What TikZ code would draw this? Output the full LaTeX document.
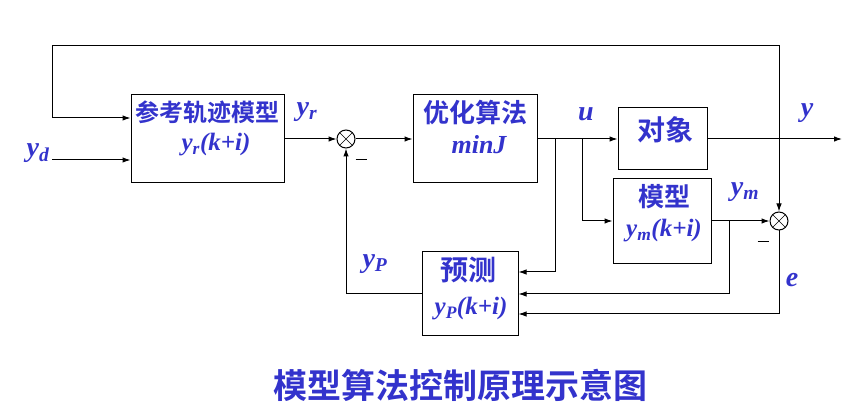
\documentclass[tikz,border=0pt]{standalone}
\usepackage{fontspec}
\setmainfont{Liberation Serif}
\newfontfamily\cjk{Noto Sans CJK SC}[BoldFont={Noto Sans CJK SC Bold}]
\usetikzlibrary{arrows.meta}
\definecolor{lblue}{RGB}{51,51,204}

\begin{document}
\begin{tikzpicture}[x=1pt,y=-1pt,>={Latex[length=8pt,width=5.5pt]},line width=1pt,
  blk/.style={draw,inner sep=0pt},
  sumj/.style={draw,circle,minimum size=18pt,inner sep=0pt,
    path picture={\draw[line width=0.6pt] (path picture bounding box.north west) -- (path picture bounding box.south east)
      (path picture bounding box.north east) -- (path picture bounding box.south west);}},
  cn/.style={text=lblue,font=\cjk\bfseries\fontsize{#1}{#1}\selectfont},
  ml/.style={text=lblue,font=\bfseries\itshape\fontsize{#1}{#1}\selectfont},
  sgn/.style={inner sep=0pt}]
\useasboundingbox (0,0) rectangle (859,419);

\node[blk,minimum width=153pt,minimum height=88pt] (ref) at (207.5,139) {};
\node[blk,minimum width=124pt,minimum height=88pt] (opt) at (475,139) {};
\node[blk,minimum width=89pt,minimum height=62pt] (plant) at (662.5,139) {};
\node[blk,minimum width=98pt,minimum height=85pt] (model) at (662,221) {};
\node[blk,minimum width=96pt,minimum height=84pt] (pred) at (470,294) {};
\node[sumj] (sum1) at (346,139) {};
\node[sumj] (sum2) at (779,221) {};

\node[cn=24] (refT) at (207,112) {参考轨迹模型};
\node[ml=25] (refS) at (216,145) {y\textsubscript{r}(k+i)};
\node[cn=26] (optT) at (475,113) {优化算法};
\node[ml=26] (optS) at (479,145) {minJ};
\node[cn=28] (plantT) at (665,130) {对象};
\node[cn=26] (modelT) at (664,197) {模型};
\node[ml=25] (modelS) at (664,231) {y\textsubscript{m}(k+i)};
\node[cn=28] (predT) at (468,270) {预测};
\node[ml=25] (predS) at (471,309) {y\textsubscript{P}(k+i)};

\node[ml=28] (ydL) at (38,153) {y\textsubscript{d}};
\node[ml=28] (yrL) at (307,112) {y\textsubscript{r}};
\node[ml=28] (uL) at (586,114) {u};
\node[ml=28] (yL) at (807,113) {y};
\node[ml=28] (ymL) at (745,192) {y\textsubscript{m}};
\node[ml=28] (eL) at (792,280) {e};
\node[ml=28] (ypL) at (375,264) {y\textsubscript{P}};
\node[sgn] (m1) at (361,160) {\rule{11pt}{1pt}};
\node[sgn] (m2) at (763,242) {\rule{11pt}{1pt}};

\coordinate (yd) at (52,160);
\coordinate (ctop) at (52,46);
\coordinate (tap) at (779,139);
\coordinate (b1) at (555,139);
\coordinate (b2) at (582,139);
\coordinate (b3) at (729,221);
\coordinate (yout) at (842,139);

\draw[->] (yd) -- (ref.west |- yd);
\draw[->] (tap) |- (ctop) |- ([yshift=21pt]ref.west);
\draw[->] (ref) -- (sum1);
\draw[->] (sum1) -- (opt);
\draw[->] (opt) -- (plant);
\draw[->] (plant) -- (yout);
\draw[->] (tap) -- (sum2);
\draw[->] (b1) |- ([yshift=22pt]pred.east);
\draw[->] (b2) |- (model.west);
\draw[->] (model) -- (sum2);
\draw[->] (b3) |- (pred.east);
\draw[->] (sum2.south) |- ([yshift=-20pt]pred.east);
\draw[->] (pred.west) -| (sum1.south);

\node[cn=34] (title) at (460,385) {模型算法控制原理示意图};
\end{tikzpicture}
\end{document}
